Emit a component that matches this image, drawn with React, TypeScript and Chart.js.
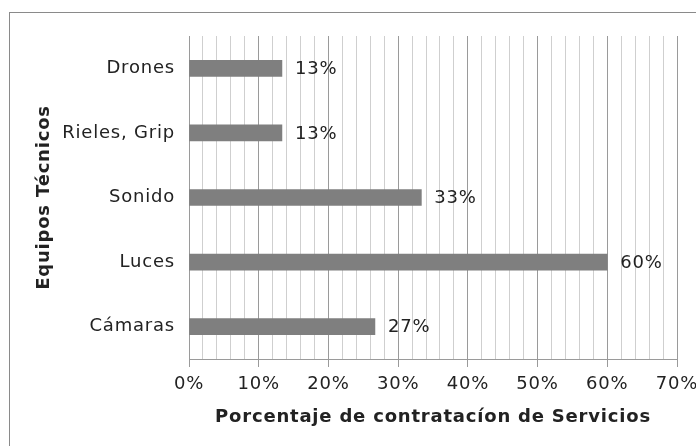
import React, { useEffect, useRef } from "react";
import { Chart, registerables } from "chart.js";

Chart.register(...registerables);

const categories = ["Drones", "Rieles, Grip", "Sonido", "Luces", "Cámaras"];
const values = [13.33, 13.33, 33.33, 60, 26.67];
const xMin = 0;
const xMax = 70;
const minorStep = 2;
const majorStep = 10;
const xTitle = "Porcentaje de contratacíon de Servicios";
const yTitle = "Equipos Técnicos";

const FONT = "'DejaVu Sans', sans-serif";
const TEXT = "#222";
const SPACING = "0.8px";

const spacing = {
  id: "spacing",
  beforeLayout(chart: any) {
    chart.ctx.letterSpacing = SPACING;
  },
  beforeDraw(chart: any) {
    chart.ctx.letterSpacing = SPACING;
  },
};

const valueLabels = {
  id: "valueLabels",
  afterDatasetsDraw(chart: any) {
    const ctx = chart.ctx;
    const meta = chart.getDatasetMeta(0);
    ctx.save();
    ctx.font = `18px ${FONT}`;
    ctx.fillStyle = TEXT;
    ctx.textAlign = "left";
    ctx.textBaseline = "middle";
    meta.data.forEach((bar: any, i: number) => {
      const v = chart.data.datasets[0].data[i] as number;
      ctx.fillText(`${Math.round(v)}%`, bar.x + 13, bar.y + 1);
    });
    ctx.restore();
  },
};

export default function App() {
  const ref = useRef<HTMLCanvasElement | null>(null);
  useEffect(() => {
    if (!ref.current) return;
    const chart = new Chart(ref.current, {
      type: "bar",
      data: {
        labels: categories,
        datasets: [
          {
            data: values,
            backgroundColor: "#7f7f7f",
            barThickness: 16,
          },
        ],
      },
      plugins: [spacing, valueLabels],
      options: {
        animation: false,
        responsive: false,
        devicePixelRatio: 1,
        indexAxis: "y",
        layout: { padding: { left: 0, right: 19, top: 36, bottom: 0 } },
        plugins: { legend: { display: false }, tooltip: { enabled: false } },
        scales: {
          x: {
            type: "linear",
            min: xMin,
            max: xMax,
            ticks: {
              stepSize: minorStep,
              autoSkip: false,
              maxRotation: 0,
              padding: 7,
              color: TEXT,
              font: { family: FONT, size: 18 },
              callback: (v: any) => (Number(v) % majorStep === 0 ? `${v}%` : ""),
            },
            grid: {
              color: (c: any) =>
                c.tick && c.tick.value % majorStep === 0 ? "#9a9a9a" : "#cfcfcf",
              tickColor: (c: any) =>
                c.tick && c.tick.value % majorStep === 0 ? "#9a9a9a" : "rgba(0,0,0,0)",
              tickLength: 8,
              lineWidth: 1,
            },
            border: { color: "#9a9a9a" },
            title: {
              display: true,
              text: xTitle,
              color: TEXT,
              font: { family: FONT, size: 18, weight: "bold" },
              padding: { top: 18, bottom: 18 },
            },
            afterFit: (s: any) => {
              s.height = 87;
              s.paddingLeft = 0;
              s.paddingRight = 0;
            },
          },
          y: {
            grid: { display: false, drawTicks: false },
            border: { display: true, color: "#9a9a9a" },
            ticks: {
              padding: 14,
              color: TEXT,
              font: { family: FONT, size: 18 },
            },
            title: {
              display: true,
              text: yTitle,
              color: TEXT,
              font: { family: FONT, size: 18, weight: "bold" },
              padding: { top: 34, bottom: 34 },
            },
            afterFit: (s: any) => {
              s.width = 189;
            },
          },
        },
      } as any,
    });
    return () => chart.destroy();
  }, []);
  return (
    <div
      style={{
        position: "fixed",
        left: 0,
        top: 0,
        width: 696,
        height: 446,
        overflow: "hidden",
        background: "#fff",
      }}
    >
      <div
        style={{
          position: "absolute",
          left: 9,
          top: 12,
          width: 800,
          height: 600,
          borderLeft: "1px solid #8a8a8a",
          borderTop: "1px solid #8a8a8a",
        }}
      />
      <canvas
        ref={ref}
        width={696}
        height={446}
        style={{ position: "absolute", left: 0, top: 0, width: 696, height: 446 }}
      />
    </div>
  );
}
